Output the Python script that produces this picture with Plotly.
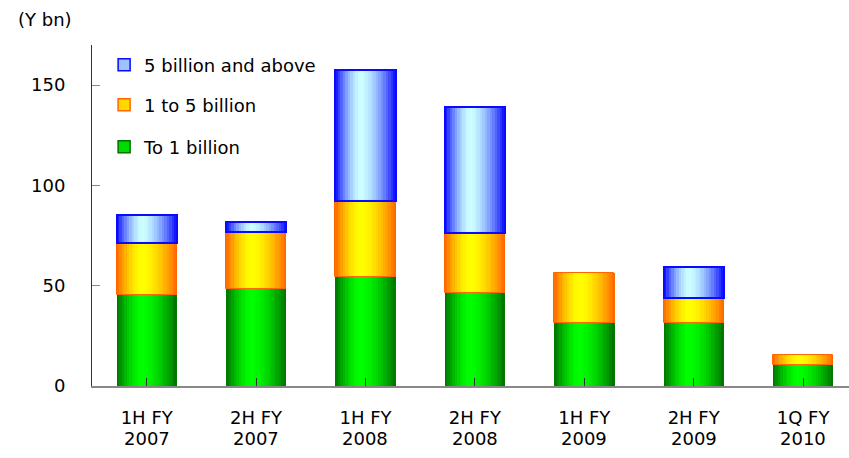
import plotly.graph_objects as go

# Periods on the x axis (two-line labels)
periods = ["1H FY", "2H FY", "1H FY", "2H FY", "1H FY", "2H FY", "1Q FY"]
years = ["2007", "2007", "2008", "2008", "2009", "2009", "2010"]

# Amounts in Y bn, by size band
to_1bn = [45.2, 48.4, 54.3, 46.4, 31.4, 31.4, 10.5]
one_to_5bn = [26.3, 28.3, 38.1, 30.1, 24.9, 12.5, 5.0]
five_bn_up = [13.8, 5.0, 65.1, 62.7, 0, 15.4, 0]

y_ticks = [0, 50, 100, 150]

FONT = "DejaVu Sans, Verdana, sans-serif"
FS = 18
BAR_W = 0.55
STRIPS = 24
PEAK = 0.42

cats = list(range(len(periods)))


def mix(c1, c2, f):
    return "rgb(%d,%d,%d)" % tuple(round(a + (b - a) * f) for a, b in zip(c1, c2))


def shade(t):
    # brightness across the bar: dark at the edges, brightest left of centre
    d = (PEAK - t) / PEAK if t < PEAK else (t - PEAK) / (1 - PEAK)
    return max(0.0, 1 - d ** 1.6)


series = [
    # name, values, edge colour, centre colour, outline width, legend id
    ("To 1 billion", to_1bn, (0, 112, 0), (0, 255, 0), 0, "legend3"),
    ("1 to 5 billion", one_to_5bn, (255, 102, 0), (255, 255, 0), 1, "legend2"),
    ("5 billion and above", five_bn_up, (10, 10, 255), (204, 255, 255), 2, "legend"),
]

fig = go.Figure()
base = [0.0] * len(cats)
for name, vals, edge, centre, lw, leg in series:
    shown = [v if v > 0 else None for v in vals]
    step = BAR_W / STRIPS
    for k in range(STRIPS):
        t = (k + 0.5) / STRIPS
        fig.add_trace(go.Bar(
            x=cats, y=shown, base=base,
            width=step * 1.08, offset=-BAR_W / 2 + k * step,
            marker=dict(color=mix(edge, centre, shade(t)), line=dict(width=0)),
            showlegend=False, hoverinfo="skip",
        ))
    if lw:
        fig.add_trace(go.Bar(
            x=cats, y=shown, base=base, width=BAR_W,
            marker=dict(color="rgba(0,0,0,0)", line=dict(color=mix(edge, edge, 0), width=lw)),
            showlegend=False, hoverinfo="skip",
        ))
    # legend entry
    fig.add_trace(go.Bar(
        x=[None], y=[None], name=name, legend=leg,
        marker=dict(color=mix(edge, centre, 0.75), line=dict(color=mix(edge, edge, 0), width=1.5)),
        showlegend=True,
    ))
    base = [b + v for b, v in zip(base, vals)]

leg_common = dict(
    x=0.016, xanchor="left", yanchor="middle",
    bgcolor="rgba(0,0,0,0)", borderwidth=0,
    font=dict(family=FONT, size=FS, color="#000000"),
)

annotations = [
    dict(x=c, y=0, xref="x", yref="paper", text=yr, showarrow=False,
         yanchor="middle", yshift=-52, font=dict(family=FONT, size=FS, color="#000000"))
    for c, yr in zip(cats, years)
]
annotations.append(dict(
    x=0, y=1, xref="paper", yref="paper", text="(Y bn)", showarrow=False,
    xanchor="left", yanchor="middle", xshift=-76, yshift=26,
    font=dict(family=FONT, size=FS, color="#000000"),
))

fig.update_layout(
    width=849, height=458,
    margin=dict(l=92, r=0, t=45, b=71.5),
    paper_bgcolor="white", plot_bgcolor="white",
    barmode="overlay", bargap=0,
    font=dict(family=FONT, size=FS, color="#000000"),
    legend=dict(y=0.941, **leg_common),
    legend2=dict(y=0.824, **leg_common),
    legend3=dict(y=0.701, **leg_common),
    annotations=annotations,
    xaxis=dict(
        range=[-0.5, 6.42], tickmode="array", tickvals=cats, ticktext=periods,
        tickson="boundaries", ticks="inside", ticklen=8, tickcolor="#333333",
        showline=True, linecolor="#888888", linewidth=2,
        showgrid=False, zeroline=False, ticklabelstandoff=14,
        tickfont=dict(family=FONT, size=FS, color="#000000"),
    ),
    yaxis=dict(
        range=[0, 170], tickmode="array", tickvals=y_ticks,
        ticks="inside", ticklen=8, tickcolor="#888888",
        showline=True, linecolor="#333333", linewidth=1,
        showgrid=False, zeroline=False, ticklabelstandoff=22,
        tickfont=dict(family=FONT, size=FS, color="#000000"),
    ),
)

fig.write_html("out.html")
